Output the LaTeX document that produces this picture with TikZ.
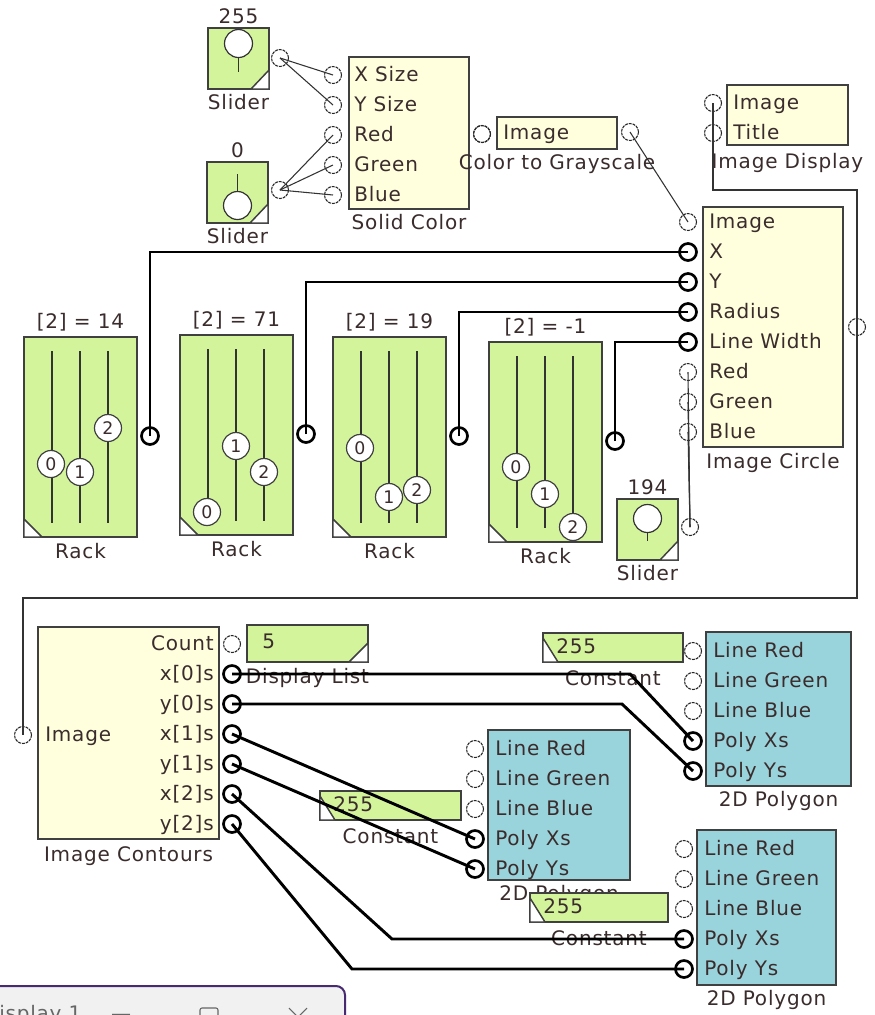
\documentclass[tikz,border=0pt]{standalone}
\usepackage{fontspec}
\setmainfont{DejaVu Sans}[LetterSpace=4]
\usetikzlibrary{positioning}
\definecolor{blkgreen}{RGB}{212,244,156}
\definecolor{blkyellow}{RGB}{255,255,222}
\definecolor{blkteal}{RGB}{153,211,220}
\definecolor{txtdark}{RGB}{58,44,44}
\definecolor{winpurple}{RGB}{72,42,112}
\definecolor{wingray}{RGB}{241,241,241}
\newdimen\px \px=0.75pt

\begin{document}
\begin{tikzpicture}[x=0.75pt,y=-0.75pt,font=\fontsize{15}{18}\selectfont,text=txtdark,
  blk/.style={draw=black!75,line width=1.1pt,fill=#1,inner sep=0pt,outer sep=0pt,anchor=north west},
  lbl/.style={inner sep=0pt,text height=11pt,text depth=2pt},
  port/.style={circle,draw=black!85,line width=0.8pt,dash pattern=on 2.2pt off 0.7pt,minimum size=17\px,inner sep=0pt},
  bport/.style={circle,draw=black,line width=2pt,minimum size=17\px,inner sep=0pt},
  knob/.style={circle,draw=black!75,line width=0.9pt,fill=white,minimum size=27\px,inner sep=0pt,font=\fontsize{13}{13}\selectfont},
  corner/.style={fill=white,draw=black!75,line width=1.1pt},
  wire/.style={black!80,line width=0.8pt},
  bus/.style={black,line width=2.2pt}]
  \useasboundingbox (0,0) rectangle (875,1015);
  \clip (0,0) rectangle (875,1015);
  \fill[white] (0,0) rectangle (875,1015);
  % ---- sliders
  \foreach \n/\x/\y/\v/\kd/\sd/\ox/\oy in {sla/208/28/255/-15/14/280/58,slb/207/162/0/13/-16/280/190,slc/617/499/194/-11/11/690/527} {
    \node[blk=blkgreen,minimum width=61\px,minimum height=61\px] (\n) at (\x,\y) {};
    \draw[corner] (\n.south east) ++(0,-19) -- (\n.south east) -- ++(-18,0) -- cycle;
    \draw[black!80,line width=0.9pt] (\n.center) ++(0,\kd) -- ++(0,\sd*2);
    \draw[black!80,line width=0.9pt,fill=white] (\n.center) ++(0,\kd) circle (14);
    \node[lbl] (\n-val) at ([yshift=11\px]\n.north) {\v};
    \node[lbl] (\n-ttl) at ([yshift=-14\px]\n.south) {Slider};
    \node[port] (\n-o) at (\ox,\oy) {};
  }
  % ---- Solid Color
  \node[blk=blkyellow,minimum width=120\px,minimum height=152\px] (col) at (349,57) {};
  \foreach \t [count=\i] in {X Size,Y Size,Red,Green,Blue} {
    \node[port] (col-p\i) at (333,45+30*\i) {};
    \node[lbl,anchor=west] (col-t\i) at (354,45+30*\i) {\t};
  }
  \node[port] (col-o) at (482,134) {};
  \node[lbl] (col-ttl) at ([yshift=-14\px]col.south) {Solid Color};
  % ---- Color to Grayscale
  \node[blk=blkyellow,minimum width=120\px,minimum height=32\px] (gray) at (497,117) {};
  \node[port] (gray-i) at (482,134) {};
  \node[lbl,anchor=west] (gray-t) at (503,133) {Image};
  \node[port] (gray-o) at (630,132) {};
  \node[lbl] (gray-ttl) at ([yshift=-14\px]gray.south) {Color to Grayscale};
  % ---- Image Display
  \node[blk=blkyellow,minimum width=121\px,minimum height=60\px] (disp) at (727,85) {};
  \foreach \t [count=\i] in {Image,Title} {
    \node[port] (disp-p\i) at (713,73+30*\i) {};
    \node[lbl,anchor=west] (disp-t\i) at (733,73+30*\i) {\t};
  }
  \node[lbl] (disp-ttl) at ([yshift=-17\px]disp.south) {Image Display};
  % ---- Image Circle
  \node[blk=blkyellow,minimum width=140\px,minimum height=240\px] (circ) at (703,207) {};
  \foreach \t/\s [count=\i] in {Image/port,X/bport,Y/bport,Radius/bport,Line Width/bport,Red/port,Green/port,Blue/port} {
    \node[\s] (circ-p\i) at (688,192+30*\i) {};
    \node[lbl,anchor=west] (circ-t\i) at (709,192+30*\i) {\t};
  }
  \node[port] (circ-o) at (857,327) {};
  \node[lbl] (circ-ttl) at ([yshift=-15\px]circ.south) {Image Circle};
  % ---- racks
  \foreach \n/\x/\y/\v/\ka/\kb/\kc in {ra/24/337/14/464/472/428,rb/180/335/71/512/446/472,rc/333/337/19/448/497/490,rd/489/342/-1/467/494/527} {
    \node[blk=blkgreen,minimum width=113\px,minimum height=200\px] (\n) at (\x,\y) {};
    \draw[corner] (\n.south west) ++(0,-18) -- (\n.south west) -- ++(18,0) -- cycle;
    \foreach \i in {0,1,2}
      \draw[black!80,line width=0.9pt] (\x+28+28*\i,\y+14) -- ++(0,172);
    \node[knob] (\n-k0) at (\x+27,\ka) {0};
    \node[knob] (\n-k1) at (\x+56,\kb) {1};
    \node[knob] (\n-k2) at (\x+84,\kc) {2};
    \node[lbl] (\n-val) at ([yshift=15\px]\n.north) {[2] = \v};
    \node[lbl] (\n-ttl) at ([yshift=-15\px]\n.south) {Rack};
    \node[bport] (\n-o) at (\x+126,\y+99) {};
  }
  % ---- Image Contours
  \node[blk=blkyellow,minimum width=181\px,minimum height=212\px] (cont) at (38,627) {};
  \node[port] (cont-i) at (23,735) {};
  \node[lbl,anchor=west] (cont-t0) at (45,735) {Image};
  \foreach \t/\s [count=\i] in {Count/port,{x[0]s}/bport,{y[0]s}/bport,{x[1]s}/bport,{y[1]s}/bport,{x[2]s}/bport,{y[2]s}/bport} {
    \node[\s] (cont-p\i) at (232,614+30*\i) {};
    \node[lbl,anchor=east] (cont-t\i) at (214,614+30*\i) {\t};
  }
  \node[lbl] (cont-ttl) at ([yshift=-16\px]cont.south) {Image Contours};
  % ---- Display List
  \node[blk=blkgreen,minimum width=121\px,minimum height=37\px] (lst) at (247,625) {};
  \draw[corner] (lst.south east) ++(0,-19) -- (lst.south east) -- ++(-19,0) -- cycle;
  \node[lbl,anchor=west] (lst-val) at (262,642) {5};
  \node[lbl] (lst-ttl) at ([yshift=-15\px]lst.south) {Display List};
  % ---- 2D Polygons
  \foreach \n/\x/\y/\w/\h in {pa/706/632/145/154,pb/488/730/142/150,pc/697/830/139/155} {
    \node[blk=blkteal,minimum width=\w\px,minimum height=\h\px] (\n) at (\x,\y) {};
    \foreach \t/\s [count=\i] in {Line Red/port,Line Green/port,Line Blue/port,Poly Xs/bport,Poly Ys/bport} {
      \node[\s] (\n-p\i) at (\x-13,\y-11+30*\i) {};
      \node[lbl,anchor=west] (\n-t\i) at (\x+7,\y-11+30*\i) {\t};
    }
    \node[lbl] (\n-ttl) at ([yshift=-14\px]\n.south) {2D Polygon};
  }
  % ---- constants
  \foreach \n/\x/\y/\w in {ka/543/633/140,kb/320/791/141,kc/530/893/138} {
    \node[blk=blkgreen,minimum width=\w\px,minimum height=29\px] (\n) at (\x,\y) {};
    \draw[corner] (\n.south west) ++(0,-24) -- (\n.south west) -- ++(15,0) -- cycle;
    \node[lbl,anchor=west] (\n-val) at ([xshift=13\px]\n.west) {255};
    \node[lbl] (\n-ttl) at ([yshift=-17\px]\n.south) {Constant};
  }
  % ---- wires
  \draw[wire] (sla-o.center) -- (col-p1.center);
  \draw[wire] (sla-o.center) -- (col-p2.center);
  \foreach \i in {3,4,5} \draw[wire] (slb-o.center) -- (col-p\i.center);
  \draw[wire] (col-o.center) -- (gray-i.center);
  \draw[wire] (gray-o.center) -- (circ-p1.center);
  \foreach \i in {6,7,8} \draw[wire] (slc-o.center) -- (circ-p\i.center);
  \draw[wire] (circ-o.center) -- ++(0,-137) -| (disp-p1.center);
  \draw[wire] (circ-o.center) -- ++(0,271) -| (cont-i.center);
  \foreach \r [count=\i from 2] in {ra,rb,rc,rd} \draw[bus] (\r-o.center) |- (circ-p\i.center);
  \draw[bus] (cont-p2.center) -- ++(398,0) -- (pa-p4.center);
  \draw[bus] (cont-p3.center) -- ++(390,0) -- (pa-p5.center);
  \draw[bus] (cont-p4.center) -- (pb-p4.center);
  \draw[bus] (cont-p5.center) -- (pb-p5.center);
  \draw[bus] (cont-p6.center) -- (392,939) -- (pc-p4.center);
  \draw[bus] (cont-p7.center) -- (352,969) -- (pc-p5.center);
  % ---- window behind
  \draw[fill=wingray,draw=winpurple,line width=1.5pt,rounded corners=9\px] (-20,986) rectangle (345,1050);
  \node[lbl,anchor=west,text=black!60] (win-t) at (-1,1014) {isplay 1};
  \node[lbl,text=black!60] (win-min) at (121,1014) {—};
  \draw[black!60,line width=0.8pt,rounded corners=2\px] (200,1008) rectangle (218,1030);
  \draw[black!60,line width=0.8pt] (289,1008) -- (307,1026) (307,1008) -- (289,1026);
\end{tikzpicture}
\end{document}
